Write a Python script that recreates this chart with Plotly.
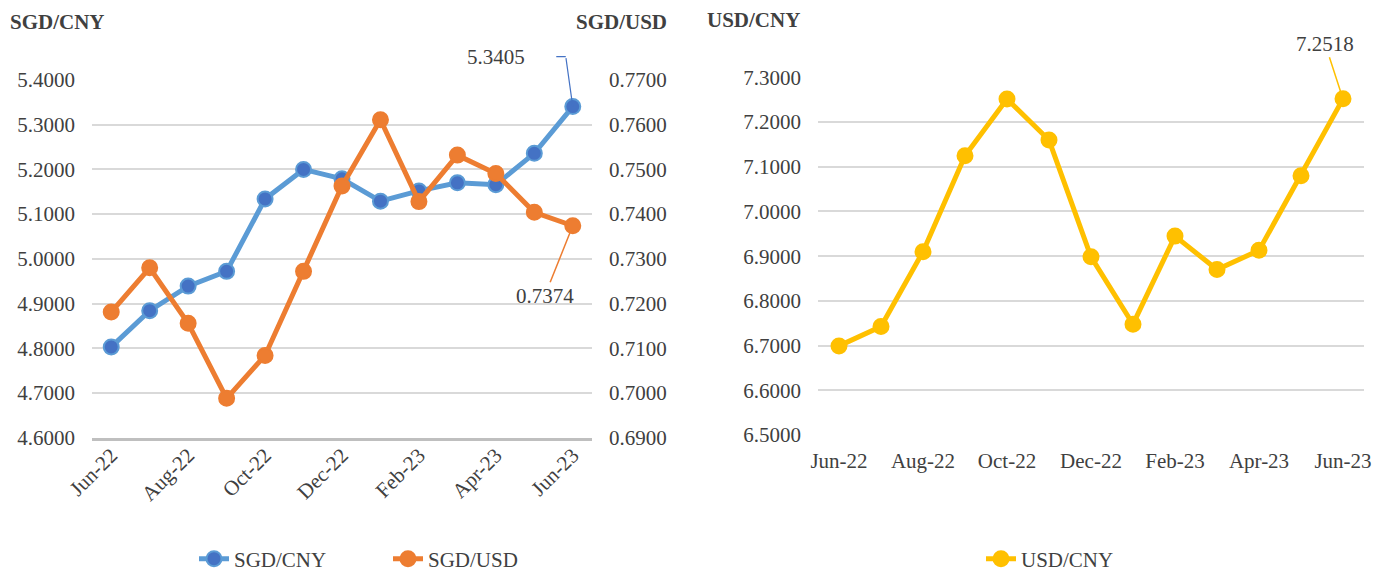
import plotly.graph_objects as go

# ---- data ----
months = ["Jun-22", "Jul-22", "Aug-22", "Sep-22", "Oct-22", "Nov-22", "Dec-22",
          "Jan-23", "Feb-23", "Mar-23", "Apr-23", "May-23", "Jun-23"]
sgd_cny = [4.803, 4.884, 4.939, 4.972, 5.134, 5.200, 5.179, 5.129, 5.152,
           5.170, 5.166, 5.236, 5.3405]
sgd_usd = [0.7181, 0.7280, 0.7156, 0.6988, 0.7084, 0.7272, 0.7463, 0.7611,
           0.7428, 0.7532, 0.7491, 0.7404, 0.7374]
usd_cny = [6.6993, 6.7425, 6.9100, 7.1246, 7.2515, 7.1597, 6.8985, 6.7478,
           6.9448, 6.8700, 6.9130, 7.0799, 7.2518]
tick_months = months[::2]

PAGE_W, PAGE_H = 1386, 571
OFF = 8                      # default page body margin
W, H = PAGE_W - OFF, PAGE_H - OFF
FONT = "Liberation Serif, Times New Roman, serif"
FS = 21
TXT = "#404040"
GRID = "#D9D9D9"
BLUE_LINE, BLUE_MK = "#5B9BD5", "#4472C4"
ORANGE = "#ED7D31"
YELLOW = "#FFC000"


def px_x(p):
    return (p - OFF) / W


def px_y(p):
    return (PAGE_H - p) / H


cat_range = [-0.5, len(months) - 0.5]

fig = go.Figure()

fig.add_trace(go.Scatter(
    x=months, y=sgd_cny, name="SGD/CNY", mode="lines+markers",
    line=dict(color=BLUE_LINE, width=5),
    marker=dict(size=15, color=BLUE_MK, line=dict(color=BLUE_LINE, width=2)),
    xaxis="x", yaxis="y", legend="legend"))
fig.add_trace(go.Scatter(
    x=months, y=sgd_usd, name="SGD/USD", mode="lines+markers",
    line=dict(color=ORANGE, width=5),
    marker=dict(size=15, color=ORANGE, line=dict(color=ORANGE, width=2)),
    xaxis="x", yaxis="y2", legend="legend"))
fig.add_trace(go.Scatter(
    x=months, y=usd_cny, name="USD/CNY", mode="lines+markers",
    line=dict(color=YELLOW, width=5),
    marker=dict(size=15, color=YELLOW, line=dict(color=YELLOW, width=2)),
    xaxis="x3", yaxis="y3", legend="legend2"))

tickfont = dict(family=FONT, size=FS, color=TXT)

fig.update_layout(
    width=W, height=H,
    margin=dict(l=0, r=0, t=0, b=0, autoexpand=False),
    paper_bgcolor="white", plot_bgcolor="white",
    font=dict(family=FONT, size=FS, color=TXT),
    hovermode=False,
    xaxis=dict(domain=[px_x(92), px_x(592)], anchor="y", type="category",
               categoryorder="array", categoryarray=months, range=cat_range,
               tickmode="array", tickvals=tick_months, tickangle=-45,
               tickfont=tickfont, showgrid=False, showline=True,
               linecolor="#BFBFBF", linewidth=3, ticks="", automargin=False,
               ticklabelstandoff=-6),
    yaxis=dict(domain=[px_y(437.7), px_y(80)], range=[4.6, 5.4], dtick=0.1,
               tickformat=".4f", tickfont=tickfont, showgrid=True,
               gridcolor=GRID, gridwidth=1.5, zeroline=False, ticks="",
               ticklabelstandoff=16, automargin=False),
    yaxis2=dict(overlaying="y", side="right", anchor="x", range=[0.69, 0.77],
                dtick=0.01, tickformat=".4f", tickfont=tickfont, showgrid=False,
                zeroline=False, ticks="", ticklabelstandoff=16, automargin=False),
    xaxis3=dict(domain=[px_x(818), px_x(1364)], anchor="y3", type="category",
                categoryorder="array", categoryarray=months, range=cat_range,
                tickmode="array", tickvals=tick_months, tickangle=0,
                tickfont=tickfont, showgrid=False, showline=False, ticks="",
                ticklabelstandoff=11, automargin=False),
    yaxis3=dict(domain=[px_y(435), px_y(77.3)], anchor="x3", range=[6.5, 7.3],
                dtick=0.1, tickformat=".4f", tickfont=tickfont, showgrid=True,
                gridcolor=GRID, gridwidth=1.5, zeroline=False, ticks="",
                ticklabelstandoff=16, automargin=False),
    legend=dict(orientation="h", x=px_x(194), y=px_y(559), xanchor="left",
                yanchor="middle", font=dict(family=FONT, size=FS, color=TXT),
                entrywidth=149, entrywidthmode="pixels",
                bgcolor="rgba(0,0,0,0)"),
    legend2=dict(orientation="h", x=px_x(981), y=px_y(559), xanchor="left",
                 yanchor="middle", font=dict(family=FONT, size=FS, color=TXT),
                 bgcolor="rgba(0,0,0,0)"),
)

title_font = dict(family=FONT, size=FS, color=TXT)
fig.add_annotation(text="<b>SGD/CNY</b>", xref="paper", yref="paper",
                   x=px_x(8), y=px_y(22), xanchor="left", yanchor="middle",
                   showarrow=False, font=title_font)
fig.add_annotation(text="<b>SGD/USD</b>", xref="paper", yref="paper",
                   x=px_x(669), y=px_y(22), xanchor="right", yanchor="middle",
                   showarrow=False, font=title_font)
fig.add_annotation(text="<b>USD/CNY</b>", xref="paper", yref="paper",
                   x=px_x(705), y=px_y(20), xanchor="left", yanchor="middle",
                   showarrow=False, font=title_font)

# data labels for the last points
lab_font = dict(family=FONT, size=FS, color=TXT)
fig.add_annotation(x=months[-1], y=sgd_cny[-1], xref="x", yref="y",
                   text=f"{sgd_cny[-1]:.4f}", showarrow=False,
                   xshift=-77, yshift=50, font=lab_font)
# elbow leader line for the SGD/CNY label
fig.add_annotation(x=months[-1], y=sgd_cny[-1], xref="x", yref="y",
                   text="", showarrow=True, arrowhead=0, arrowwidth=1.2,
                   arrowcolor=BLUE_MK, ax=-7, ay=-50, standoff=0,
                   startstandoff=0)
fig.add_annotation(x=months[-1], y=sgd_cny[-1], xref="x", yref="y",
                   text="", showarrow=True, arrowhead=0, arrowwidth=1.2,
                   arrowcolor=BLUE_MK, xshift=-7, yshift=50, ax=-11, ay=0,
                   standoff=0, startstandoff=0)
fig.add_annotation(x=months[-1], y=sgd_usd[-1], xref="x", yref="y2",
                   text=f"{sgd_usd[-1]:.4f}", showarrow=True, arrowhead=0,
                   arrowwidth=1.5, arrowcolor=ORANGE, ax=-28, ay=70,
                   font=lab_font, standoff=6)
fig.add_annotation(x=months[-1], y=usd_cny[-1], xref="x3", yref="y3",
                   text=f"{usd_cny[-1]:.4f}", showarrow=True, arrowhead=0,
                   arrowwidth=1.5, arrowcolor=YELLOW, ax=-18, ay=-55,
                   font=lab_font, standoff=6)

fig.write_html("out.html", config={"displayModeBar": False})
